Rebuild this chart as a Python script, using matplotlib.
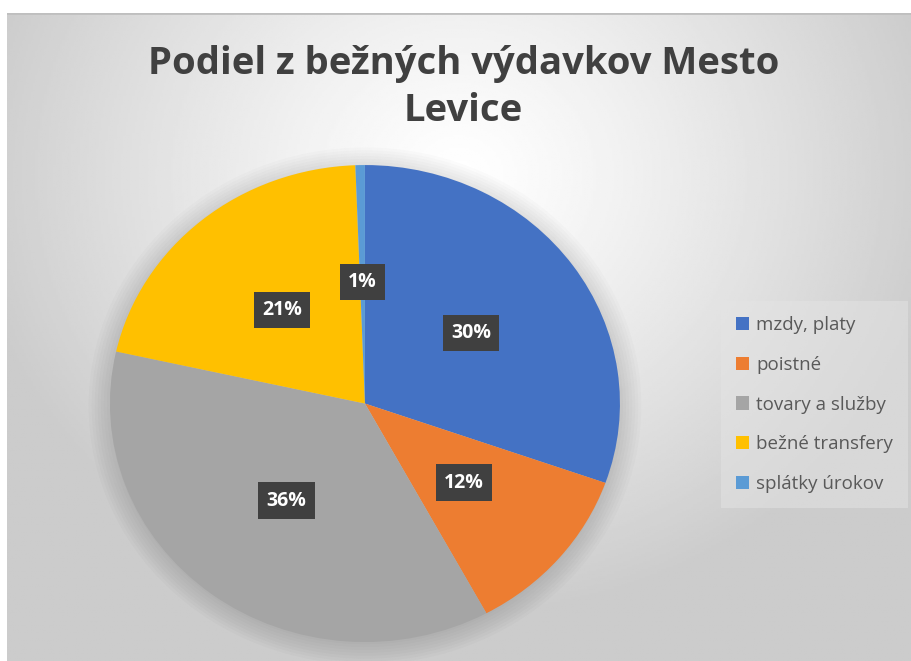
import numpy as np
import matplotlib.pyplot as plt
from matplotlib.patches import Ellipse

# data
categories = ['mzdy, platy', 'poistné', 'tovary a služby', 'bežné transfery', 'splátky úrokov']
shares = [30.4, 11.7, 36.4, 20.9, 0.6]
colors = ['#4472C4', '#ED7D31', '#A5A5A5', '#FFC000', '#5B9BD5']
title = 'Podiel z bežných výdavkov Mesto\nLevice'

plt.rcParams['font.family'] = ['Open Sans', 'DejaVu Sans']

fig = plt.figure(figsize=(9.11, 6.61), dpi=100)
fig.patch.set_facecolor('white')

# background with radial gradient (white centre, grey edges)
bg = fig.add_axes([7/911, 0, 904/911, 1 - 13/661])
bg.set_axis_off()
yy, xx = np.mgrid[-1:1:300j, -1:1:400j]
rr = np.sqrt(xx**2 + ((yy + 0.5) * 0.8)**2) / 1.3
grad = 1.0 - 0.2 * np.clip(rr * 1.2, 0, 1) ** 1.2
bg.imshow(grad, cmap='gray', vmin=0, vmax=1, aspect='auto', extent=[0, 1, 0, 1])
bg.set_xlim(0, 1)
bg.set_ylim(0, 1)
bg.plot([0, 1], [1, 1], color='#BFBFBF', lw=2)

fig.text(0.509, 0.868, title, ha='center', va='center', fontsize=27.5,
         fontweight='bold', color='#404040', linespacing=1.3)

# the pie in the reference is slightly stretched horizontally
ax = fig.add_axes([0.1207, 0.0287, 0.5598, 0.7216])
# soft shadow around the pie
for i in range(8):
    ax.add_patch(Ellipse((0, -0.01), 2 * (1.0 + 0.012 * i), 2 * (1.0 + 0.012 * i),
                         color='black', alpha=0.015, lw=0, zorder=0, clip_on=False))

wedges, texts, autotexts = ax.pie(shares, colors=colors, startangle=90, counterclock=False,
                                  autopct='%.0f%%', pctdistance=0.51,
                                  wedgeprops=dict(linewidth=0),
                                  textprops=dict(color='white', fontsize=14, fontweight='bold'))
for t in autotexts:
    t.set_bbox(dict(boxstyle='square,pad=0.42', facecolor='#404040', edgecolor='none'))
ax.set_xlim(-1.0, 1.0)
ax.set_ylim(-1.0, 1.0)
ax.set_aspect('auto')

leg = fig.legend(wedges, categories, loc='center left', bbox_to_anchor=(0.787, 0.388),
                 frameon=True, fontsize=13.5, labelcolor='#595959',
                 handlelength=0.7, handleheight=0.7, handletextpad=0.4,
                 labelspacing=1.15, borderpad=0.5)
leg.get_frame().set_facecolor('#E4E4E4')
leg.get_frame().set_alpha(0.5)
leg.get_frame().set_edgecolor('none')
leg.get_frame().set_boxstyle('square')

fig.savefig('out.png', dpi=100)
